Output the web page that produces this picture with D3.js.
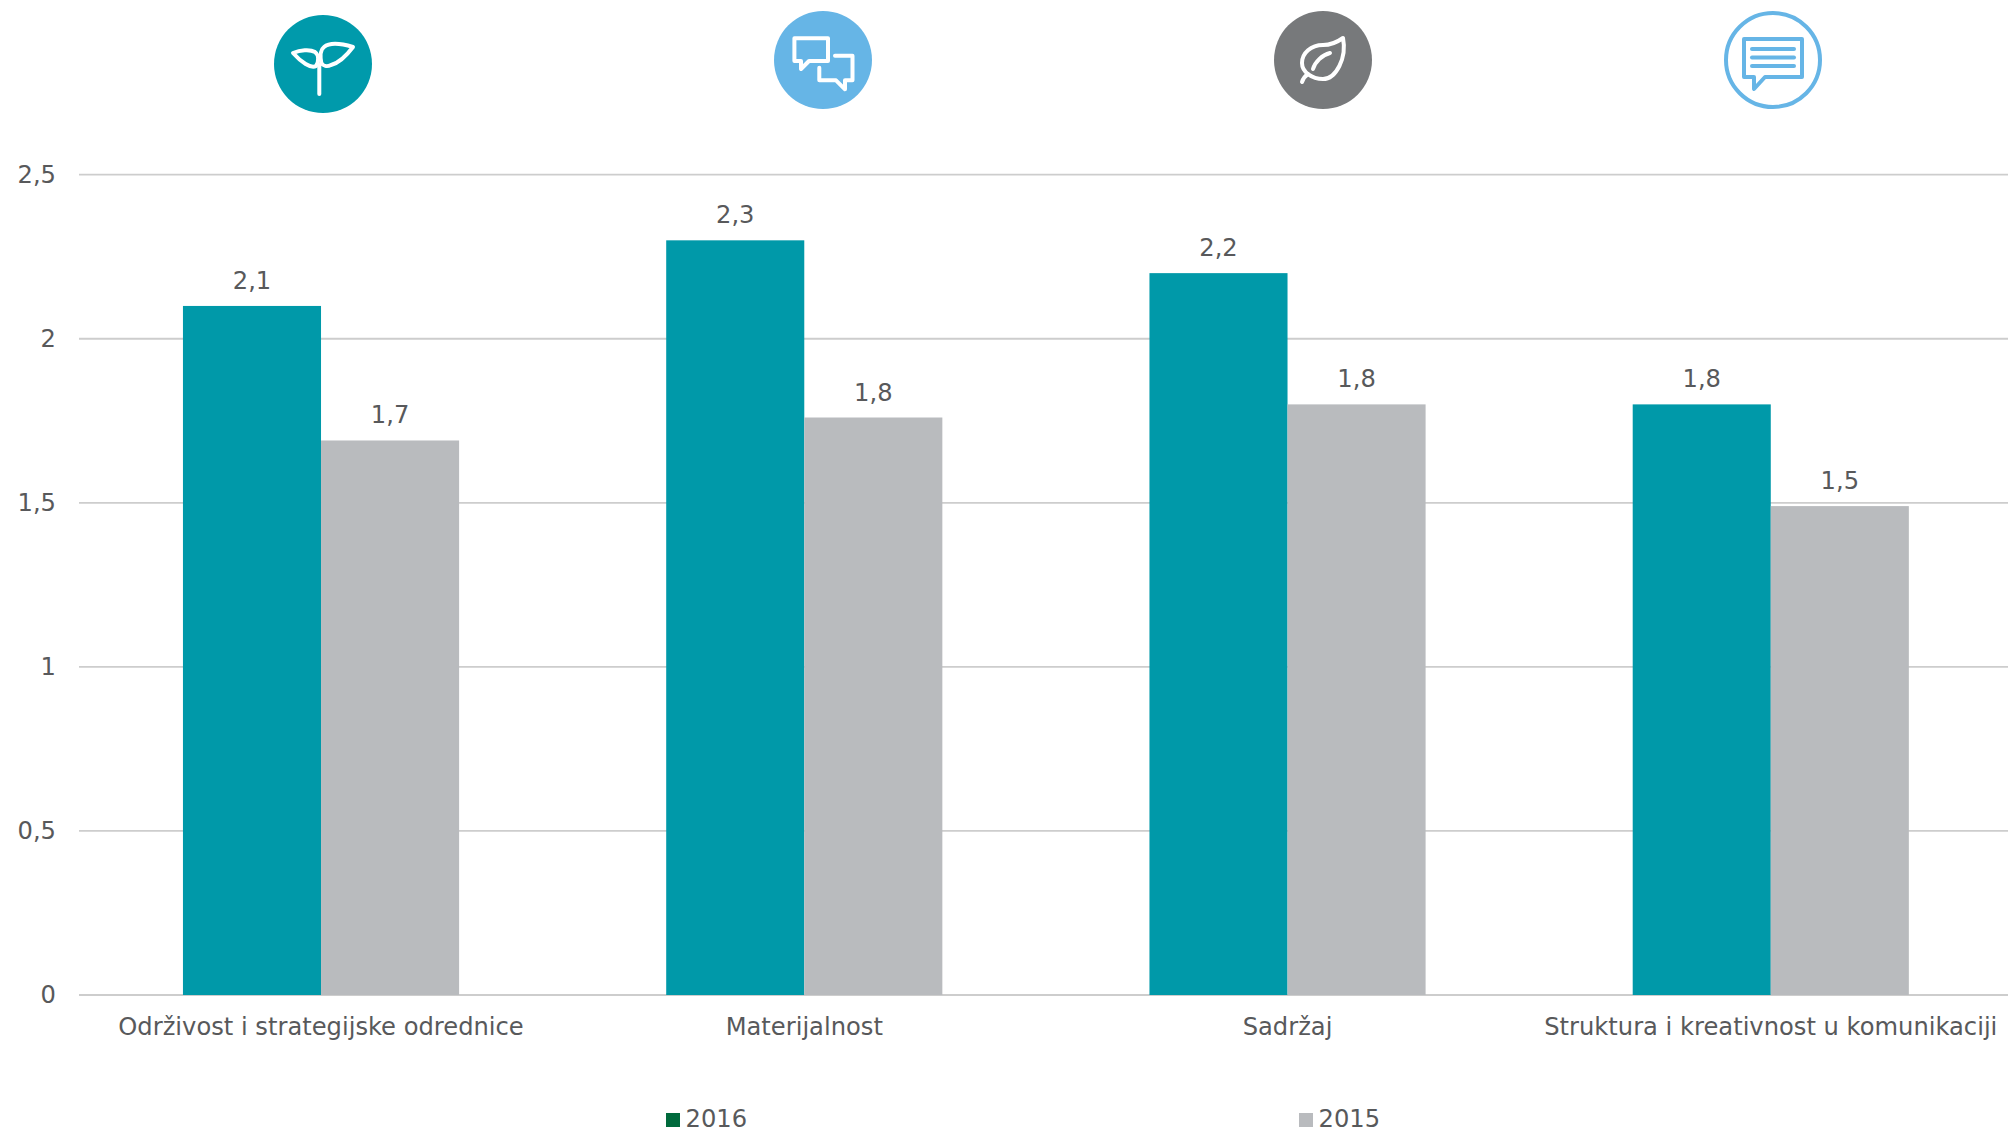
<!DOCTYPE html>
<html>
<head>
<meta charset="utf-8">
<script src="https://cdn.jsdelivr.net/npm/d3@7"></script>
<style>
html, body { margin: 0; padding: 0; background: #fff; overflow: hidden; }
svg { display: block; }
text { font-family: "DejaVu Sans", sans-serif; fill: #58595b; }
</style>
</head>
<body>
<svg></svg>
<script>
const categories = ['Održivost i strategijske odrednice', 'Materijalnost', 'Sadržaj', 'Struktura i kreativnost u komunikaciji']
const seriesNames = ['2016', '2015']
const values2016 = [2.1, 2.3, 2.2, 1.8]
const values2015 = [1.69, 1.76, 1.8, 1.49]
const yTicks = [0, 0.5, 1, 1.5, 2, 2.5]

const width = 2008,
    height = 1132
const fontSize = 24.2
const svg = d3.select('svg').attr('width', width).attr('height', height)

const x0 = d3.scaleBand().domain(categories).range([79.4, 2012.4])
const x1 = d3
    .scaleBand()
    .domain(seriesNames)
    .range([0, x0.bandwidth()])
    .paddingInner(0)
    .paddingOuter(0.75)
const y = d3.scaleLinear().domain([0, 2.5]).range([995, 174.7])
const comma = (v) => String(v).replace('.', ',')
const color = d3.scaleOrdinal(seriesNames, ['#0099a9', '#b9bbbe'])
const legendColor = d3.scaleOrdinal(seriesNames, ['#006a3c', '#b9bbbe'])

// grid
svg.append('g')
    .selectAll('line')
    .data(yTicks)
    .join('line')
    .attr('x1', 79)
    .attr('x2', width)
    .attr('y1', (d) => y(d))
    .attr('y2', (d) => y(d))
    .attr('stroke', '#cdcdcd')
    .attr('stroke-width', 1.8)

// bars
const groups = svg
    .append('g')
    .selectAll('g')
    .data(categories)
    .join('g')
    .attr('transform', (d) => `translate(${x0(d)},0)`)
const rows = (i) => [
    { key: '2016', value: values2016[i] },
    { key: '2015', value: values2015[i] },
]
groups
    .selectAll('rect')
    .data((d, i) => rows(i))
    .join('rect')
    .attr('x', (d) => x1(d.key))
    .attr('width', x1.bandwidth())
    .attr('y', (d) => y(d.value))
    .attr('height', (d) => y(0) - y(d.value))
    .attr('fill', (d) => color(d.key))
groups
    .selectAll('text')
    .data((d, i) => rows(i))
    .join('text')
    .attr('x', (d) => x1(d.key) + x1.bandwidth() / 2)
    .attr('y', (d) => y(d.value) - 17)
    .attr('text-anchor', 'middle')
    .attr('font-size', fontSize)
    .text((d) => comma(d.value.toFixed(1)))

// axes
const yAxis = d3
    .axisLeft(y)
    .tickValues(yTicks)
    .tickSize(0)
    .tickPadding(23)
    .tickFormat(comma)
svg.append('g')
    .attr('transform', 'translate(79,0)')
    .call(yAxis)
    .call((g) => g.select('.domain').remove())
    .selectAll('text')
    .attr('font-size', fontSize)

const xAxis = d3.axisBottom(x0).tickSize(0).tickPadding(23)
svg.append('g')
    .attr('transform', 'translate(0,995)')
    .call(xAxis)
    .call((g) => g.select('.domain').remove())
    .selectAll('text')
    .attr('font-size', fontSize)

// legend
const legendX = { 2016: 666, 2015: 1299 }
const legend = svg
    .append('g')
    .selectAll('g')
    .data(seriesNames)
    .join('g')
    .attr('transform', (d) => `translate(${legendX[d]},1113)`)
legend
    .append('rect')
    .attr('width', 14)
    .attr('height', 14)
    .attr('fill', (d) => legendColor(d))
legend
    .append('text')
    .attr('x', 19.5)
    .attr('y', 13.5)
    .attr('font-size', fontSize)
    .text((d) => d)

// icons above the columns
const icons = [
    {
        cx: 323, cy: 64, fill: '#009aab', stroke: '#fff',
        d: [
            'M-3.7 1V30',
            'M-1.7 -1C-3 -8 -3 -14 1 -17C7 -22 20 -20 30 -17C24 -9 16 -1 8 1C4 3 0 2 -1.7 -1Z',
            'M-30 -11C-23 -14 -13 -15 -8 -12C-4 -9 -4 -2 -7 2C-12 5 -22 -2 -30 -11Z',
        ],
    },
    {
        cx: 823, cy: 60, fill: '#66b5e6', stroke: '#fff',
        d: [
            'M-28.6 -21.7H5V1H-14L-22 9V1H-28.6Z',
            'M12 -4.3H29.5V20.3H22V29.3L13 20.3H-3.7V7.7',
        ],
    },
    {
        cx: 1323, cy: 60, fill: '#77797b', stroke: '#fff',
        d: [
            'M20 -22C13 -17 7 -15 0 -15C-12 -15 -21 -7 -21 3C-21 12 -11 19 0 19C13 19 24 -2 20 -22Z',
            'M-15 14C-18 16 -20 19 -21 22',
            'M-10 9C-8 2 -1 -5 7 -7',
        ],
    },
    {
        cx: 1773, cy: 60, fill: '#fff', stroke: '#66b5e6', ring: true,
        d: [
            'M-29 -21H29V17H-8L-19 29V17H-29Z',
            'M-21 -11H21',
            'M-21 -2.5H21',
            'M-21 6H21',
        ],
    },
]
const icon = svg
    .append('g')
    .selectAll('g')
    .data(icons)
    .join('g')
    .attr('transform', (d) => `translate(${d.cx},${d.cy})`)
icon.append('circle')
    .attr('r', (d) => (d.ring ? 47 : 49))
    .attr('fill', (d) => d.fill)
    .attr('stroke', (d) => (d.ring ? d.stroke : 'none'))
    .attr('stroke-width', 4)
icon.selectAll('path')
    .data((d) => d.d.map((p) => ({ p, stroke: d.stroke })))
    .join('path')
    .attr('d', (d) => d.p)
    .attr('fill', 'none')
    .attr('stroke', (d) => d.stroke)
    .attr('stroke-width', 4)
    .attr('stroke-linecap', 'round')
    .attr('stroke-linejoin', 'round')
</script>
</body>
</html>
